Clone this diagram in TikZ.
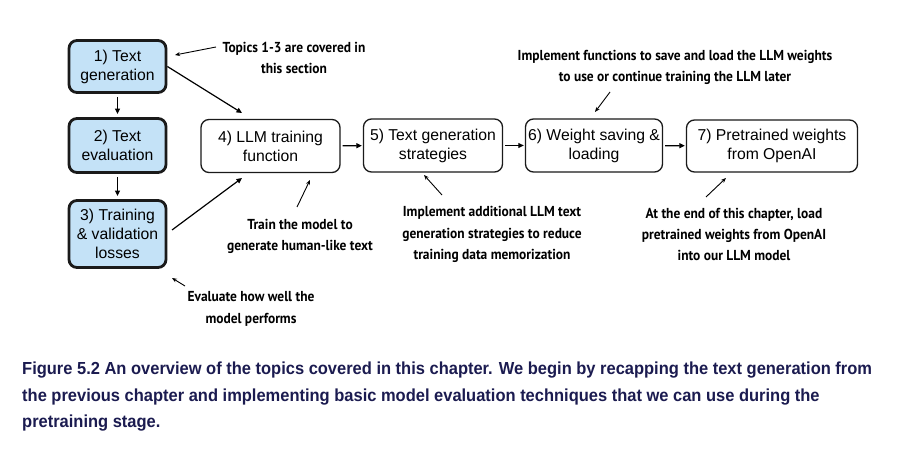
\documentclass[tikz,border=0pt]{standalone}
\usepackage{fontspec}
\setmainfont{Liberation Sans}
\newfontfamily\annfont[FakeStretch=0.93]{PT Sans}
\newfontfamily\capfont[FakeStretch=0.945]{Liberation Sans}
\usetikzlibrary{arrows.meta}
\definecolor{boxblue}{HTML}{C4E2F7}
\definecolor{capnavy}{HTML}{1B1B50}
\definecolor{edgegray}{HTML}{1A1A1A}
\tikzset{
  base/.style={draw=edgegray, rounded corners=8bp, align=center, inner sep=0pt,
    font=\fontsize{15.8}{19}\selectfont},
  bluebox/.style={base, fill=boxblue, line width=2.8bp, minimum width=97bp},
  whitebox/.style={base, fill=white, line width=1.3bp},
  arr/.style={line width=1.2bp, -{Triangle[length=5.5bp,width=5bp]}},
  ann/.style={align=center, inner sep=0pt, font=\annfont\bfseries\fontsize{14.5}{21.5}\selectfont},
  annarr/.style={line width=0.9bp, -{Stealth[length=5bp,width=4bp]}},
}
\begin{document}
\begin{tikzpicture}[x=1bp,y=-1bp]
\useasboundingbox[fill=white] (0,0) rectangle (906,451);
% boxes
\node[bluebox, minimum height=52bp] (b1) at (117.5,66.5) {1) Text\\generation};
\node[bluebox, minimum height=54bp] (b2) at (117.5,145.5) {2) Text\\evaluation};
\node[bluebox, minimum height=67bp] (b3) at (117.5,234) {3) Training\\\& validation\\losses};
\node[whitebox, minimum width=139bp, minimum height=53bp] (b4) at (270.5,146) {4) LLM training\\function};
\node[whitebox, minimum width=139bp, minimum height=53bp] (b5) at (433,145.5) {5) Text generation\\strategies};
\node[whitebox, minimum width=137bp, minimum height=53bp] (b6) at (594,145.5) {6) Weight saving \&\\loading};
\node[whitebox, minimum width=171bp, minimum height=52bp] (b7) at (772,146) {7) Pretrained weights\\from OpenAI};
% main arrows
\draw[arr, shorten <=3bp, shorten >=3bp] (b1) -- (b2);
\draw[arr, shorten <=3bp, shorten >=3bp] (b2) -- (b3);
\draw[arr, shorten <=2bp, shorten >=1bp] (b4) -- (b5);
\draw[arr, shorten <=2bp, shorten >=1bp] (b5) -- (b6);
\draw[arr, shorten <=2bp, shorten >=1bp] (b6) -- (b7);
\coordinate (t4a) at (242,113);
\coordinate (t4b) at (242,178);
\coordinate (s3) at (172,230);
\draw[arr] (b1.east) -- (t4a);
\draw[arr] (s3) -- (t4b);
% annotations
\node[ann] (a1) at (294,58) {Topics 1-3 are covered in\\this section};
\node[ann] (a4) at (300,236.5) {Train the model to\\generate human-like text};
\node[ann] (a5) at (492,234.5) {Implement additional LLM text\\generation strategies to reduce\\training data memorization};
\node[ann] (a6) at (675,67.5) {Implement functions to save and load the LLM weights\\to use or continue training the LLM later};
\node[ann] (a7) at (734,234.5) {At the end of this chapter, load\\pretrained weights from OpenAI\\into our LLM model};
\node[ann] (a3) at (251,309) {Evaluate how well the\\model performs};
\coordinate (p1s) at (216,47); \coordinate (p1e) at (175,55);
\coordinate (p4s) at (297,207); \coordinate (p4e) at (310,180);
\coordinate (p5s) at (442,195); \coordinate (p5e) at (424,175);
\coordinate (p6s) at (610,92); \coordinate (p6e) at (595,112);
\coordinate (p7s) at (706,197); \coordinate (p7e) at (726,178);
\coordinate (p3s) at (185,286); \coordinate (p3e) at (172,278);
\draw[annarr] (p1s) -- (p1e);
\draw[annarr] (p4s) -- (p4e);
\draw[annarr] (p5s) -- (p5e);
\draw[annarr] (p6s) -- (p6e);
\draw[annarr] (p7s) -- (p7e);
\draw[annarr] (p3s) -- (p3e);
% caption
\node[anchor=north west, align=left, inner sep=0pt, text=capnavy,
  font=\capfont\bfseries\fontsize{17.5}{26.5}\selectfont] (cap) at (22,362)
  {Figure 5.2 An overview of the topics covered in this chapter. We begin by recapping the text generation from\\
   the previous chapter and implementing basic model evaluation techniques that we can use during the\\
   pretraining stage.};
\end{tikzpicture}
\end{document}
